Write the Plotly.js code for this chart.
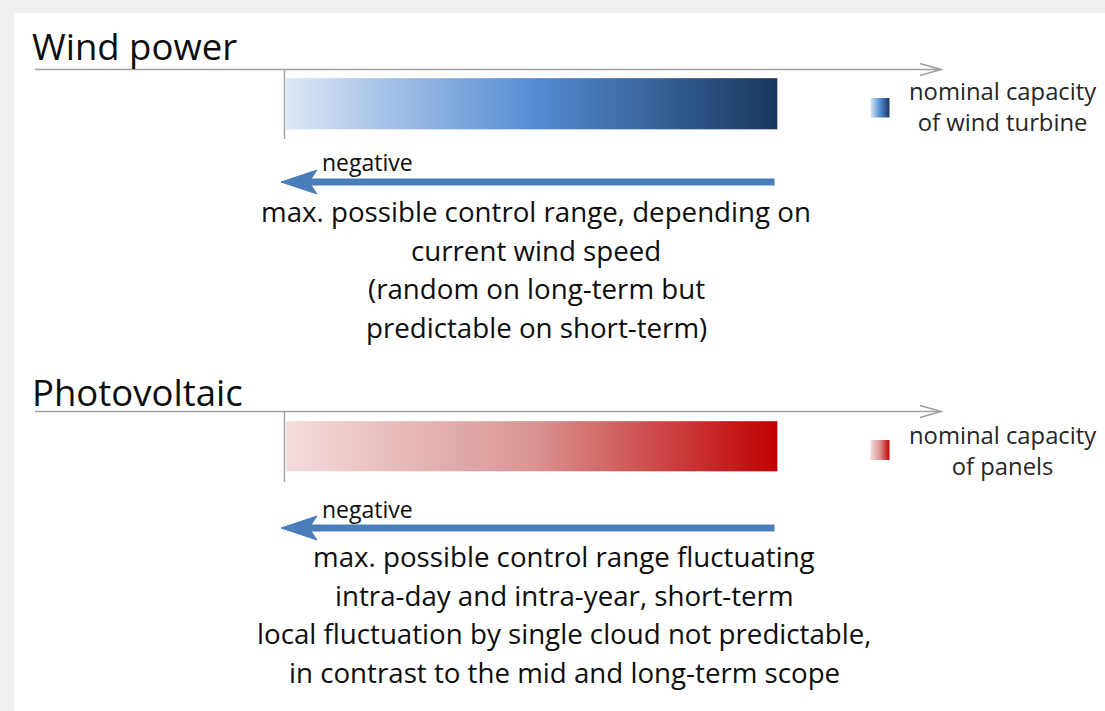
<!DOCTYPE html>
<html>
<head>
<meta charset="utf-8">
<script src="https://cdn.plot.ly/plotly-3.0.1.min.js"></script>
<style>
html,body{margin:0;padding:0;background:#f0f0f0;}
#chart{width:1105px;height:711px;}
</style>
</head>
<body>
<div id="chart"></div>
<script>
// ---- content / data ----
const sectionTitles = ['Wind power', 'Photovoltaic'];
const directionLabels = ['negative', 'negative'];
const legendLabels = ['nominal capacity<br>of wind turbine', 'nominal capacity<br>of panels'];
const windNotes = [
  'max. possible control range, depending on',
  'current wind speed',
  '(random on long-term but',
  'predictable on short-term)'
];
const pvNotes = [
  'max. possible control range fluctuating',
  'intra-day and intra-year, short-term',
  'local fluctuation by single cloud not predictable,',
  'in contrast to the mid and long-term scope'
];
const windScale = [[0, '#dde6f4'], [0.5, '#558ed5'], [1, '#17375e']];
const pvScale = [[0, '#f2dcdb'], [0.5, '#d99594'], [1, '#c00000']];

// ---- geometry (pixels, y down) ----
const FONT = '"Open Sans", sans-serif';
const sections = [
  {title: sectionTitles[0], titleY: 46, axisY: 69.5, barY0: 78, barY1: 129.5, tickY1: 139,
   arrowY: 182, negY: 162, notes: windNotes, notesX: 536, notesY: 211, scale: windScale,
   swY0: 98, swY1: 117.5, legend: legendLabels[0], legendY: 106, dir: directionLabels[0]},
  {title: sectionTitles[1], titleY: 392, axisY: 411.5, barY0: 421, barY1: 471.5, tickY1: 482,
   arrowY: 528, negY: 509, notes: pvNotes, notesX: 564, notesY: 556, scale: pvScale,
   swY0: 440, swY1: 460, legend: legendLabels[1], legendY: 450, dir: directionLabels[1]}
];
const barX0 = 286, barX1 = 777.5, tickX = 284.5;
const axisX0 = 35, axisX1 = 941;
const swX0 = 870.5, swX1 = 889.5;
const lineGap = 38.7;

const traces = [];
const shapes = [];
const annotations = [];

// white content card
shapes.push({type: 'rect', xref: 'x', yref: 'y', x0: 14, x1: 1110, y0: 13, y1: 720,
  fillcolor: '#ffffff', line: {width: 0}, layer: 'below'});

sections.forEach(s => {
  traces.push({type: 'scatter', mode: 'lines', x: [barX0, barX1, barX1, barX0, barX0],
    y: [s.barY0, s.barY0, s.barY1, s.barY1, s.barY0], fill: 'toself',
    fillgradient: {type: 'horizontal', colorscale: s.scale},
    line: {width: 0.6, color: 'rgba(255,255,255,0.6)'}, hoverinfo: 'skip', showlegend: false});
  traces.push({type: 'scatter', mode: 'lines', x: [swX0, swX1, swX1, swX0, swX0],
    y: [s.swY0, s.swY0, s.swY1, s.swY1, s.swY0], fill: 'toself',
    fillgradient: {type: 'horizontal', colorscale: s.scale},
    line: {width: 0}, hoverinfo: 'skip', showlegend: false});
  shapes.push({type: 'line', x0: axisX0, x1: axisX1 - 2, y0: s.axisY, y1: s.axisY,
    line: {color: '#a0a0a0', width: 1.6}});
  shapes.push({type: 'path', path: `M ${axisX1 - 21},${s.axisY - 6} L ${axisX1},${s.axisY} L ${axisX1 - 21},${s.axisY + 6}`,
    line: {color: '#a0a0a0', width: 1.6}});
  shapes.push({type: 'line', x0: tickX, x1: tickX, y0: s.axisY, y1: s.tickY1,
    line: {color: '#a0a0a0', width: 1.4}});
  shapes.push({type: 'line', x0: 305, x1: 774.5, y0: s.arrowY, y1: s.arrowY,
    line: {color: '#4a7ebb', width: 7}});
  shapes.push({type: 'path',
    path: `M 281,${s.arrowY} L 317,${s.arrowY - 12} L 309,${s.arrowY} L 317,${s.arrowY + 12} Z`,
    fillcolor: '#4a7ebb', line: {color: '#4a7ebb', width: 1}});

  annotations.push({x: 30, y: s.titleY, xanchor: 'left', yanchor: 'middle', text: s.title,
    showarrow: false, font: {family: FONT, size: 36.5, color: '#0d0d0d'}});
  annotations.push({x: 320, y: s.negY, xanchor: 'left', yanchor: 'middle', text: s.dir,
    showarrow: false, font: {family: FONT, size: 23, color: '#0d0d0d'}});
  s.notes.forEach((t, i) => {
    annotations.push({x: s.notesX, y: s.notesY + i * lineGap, xanchor: 'center', yanchor: 'middle',
      text: t, showarrow: false, font: {family: FONT, size: 27.7, color: '#0d0d0d'}});
  });
  annotations.push({x: 1002, y: s.legendY, xanchor: 'center', yanchor: 'middle', text: s.legend,
    showarrow: false, align: 'center', font: {family: FONT, size: 23.8, color: '#262626'}});
});

const layout = {
  width: 1105, height: 711,
  margin: {l: 0, r: 0, t: 0, b: 0, pad: 0},
  paper_bgcolor: '#f0f0f0', plot_bgcolor: 'rgba(0,0,0,0)',
  xaxis: {range: [0, 1105], visible: false, fixedrange: true},
  yaxis: {range: [711, 0], visible: false, fixedrange: true},
  shapes: shapes, annotations: annotations, showlegend: false,
  hovermode: false
};
Plotly.newPlot('chart', traces, layout, {displayModeBar: false, staticPlot: true});
</script>
</body>
</html>
